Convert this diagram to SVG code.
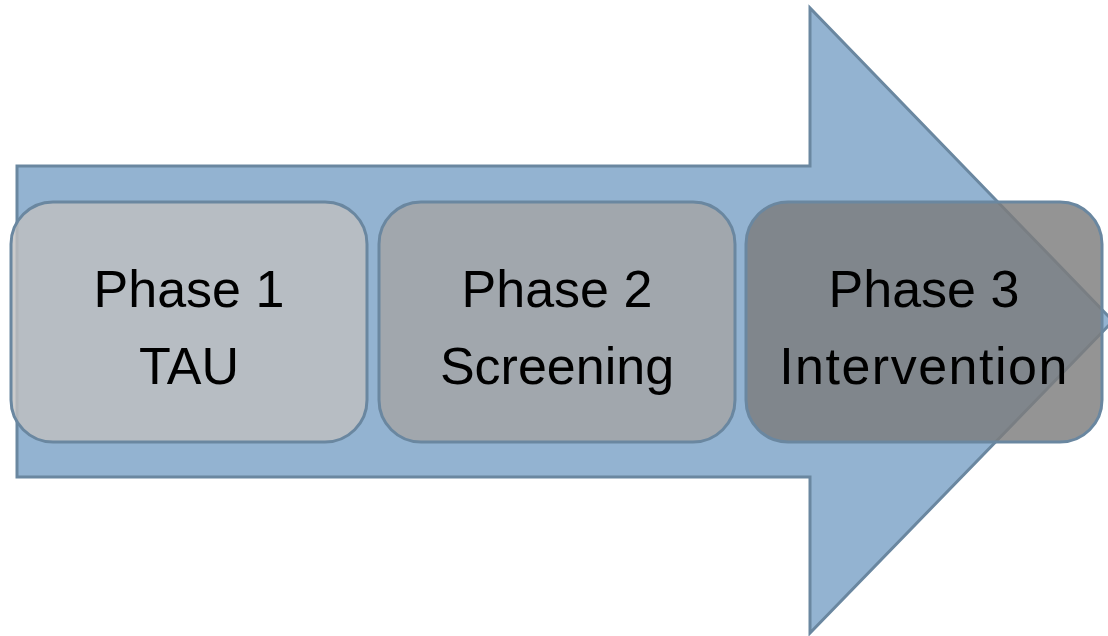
<svg xmlns="http://www.w3.org/2000/svg" width="1108" height="636" viewBox="0 0 1108 636">
<style>
.box{stroke:#6a87a0;stroke-width:3}
.t{font-family:"Liberation Sans",Arial,sans-serif;font-size:52px;fill:#000;text-anchor:middle}
</style>
<rect width="1108" height="636" fill="#ffffff"/>
<g id="arrow">
<path d="M17,166 L810,166 L810,8 L1113,321 L810,633 L810,477 L17,477 Z" fill="#93b3d1" stroke="#6a87a0" stroke-width="3" stroke-linejoin="miter"/>
</g>
<g id="phase1">
<rect class="box" x="11" y="202" width="356" height="240" rx="42" fill="#c0c0c0" fill-opacity="0.82"/>
<text class="t" x="189" y="307">Phase 1</text>
<text class="t" x="189" y="384">TAU</text>
</g>
<g id="phase2">
<rect class="box" x="379" y="202" width="356" height="240" rx="42" fill="#a5a5a5" fill-opacity="0.82"/>
<text class="t" x="557" y="307">Phase 2</text>
<text class="t" x="557" y="384">Screening</text>
</g>
<g id="phase3">
<rect class="box" x="746" y="202" width="356" height="240" rx="42" fill="#7c7c7c" fill-opacity="0.82"/>
<text class="t" x="924" y="307">Phase 3</text>
<text class="t" x="924" y="384" letter-spacing="1.5">Intervention</text>
</g>
<g id="connectors"/>
</svg>
